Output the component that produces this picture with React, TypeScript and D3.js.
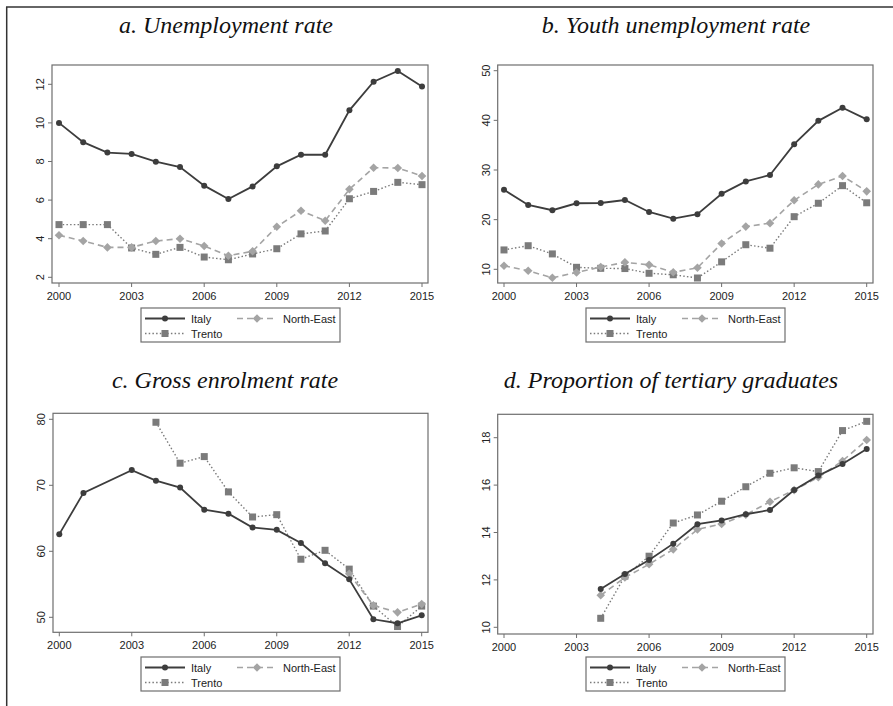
import React from 'react';
import * as d3 from 'd3';

// Years on the horizontal axis
const years = [2000, 2001, 2002, 2003, 2004, 2005, 2006, 2007, 2008, 2009, 2010, 2011, 2012, 2013, 2014, 2015];
const xTicks = [2000, 2003, 2006, 2009, 2012, 2015];

// a. Unemployment rate
const unempItaly = [10.0, 9.0, 8.46, 8.39, 7.99, 7.71, 6.75, 6.06, 6.71, 7.75, 8.35, 8.35, 10.65, 12.13, 12.69, 11.88];
const unempNorthEast = [4.18, 3.88, 3.55, 3.55, 3.88, 4.0, 3.62, 3.12, 3.35, 4.62, 5.45, 4.93, 6.56, 7.68, 7.66, 7.25];
const unempTrento = [4.73, 4.73, 4.73, 3.52, 3.19, 3.55, 3.05, 2.91, 3.21, 3.48, 4.25, 4.4, 6.07, 6.45, 6.92, 6.8];
const unempTicks = [2, 4, 6, 8, 10, 12];

// b. Youth unemployment rate
const youthItaly = [26.0, 22.95, 21.9, 23.3, 23.35, 23.95, 21.55, 20.2, 21.1, 25.2, 27.7, 29.0, 35.2, 39.9, 42.55, 40.2];
const youthNorthEast = [10.7, 9.7, 8.3, 9.35, 10.45, 11.4, 10.9, 9.4, 10.3, 15.2, 18.6, 19.3, 23.9, 27.1, 28.8, 25.7];
const youthTrento = [13.9, 14.75, 13.1, 10.4, 10.2, 10.15, 9.2, 8.9, 8.25, 11.5, 14.95, 14.25, 20.6, 23.3, 26.85, 23.4];
const youthTicks = [10, 20, 30, 40, 50];

// c. Gross enrolment rate
const enrolItaly = [62.6, 68.85, null, 72.3, 70.7, 69.65, 66.3, 65.7, 63.6, 63.25, 61.25, 58.2, 55.75, 49.7, 49.1, 50.3];
const enrolNorthEast = [null, null, null, null, null, null, null, null, null, null, null, null, 56.6, 51.8, 50.75, 52.0];
const enrolTrento = [null, null, null, null, 79.55, 73.35, 74.35, 69.0, 65.2, 65.55, 58.8, 60.15, 57.3, 51.7, 48.6, 51.7];
const enrolTicks = [50, 60, 70, 80];

// d. Proportion of tertiary graduates
const gradItaly = [null, null, null, null, 11.62, 12.25, 12.84, 13.53, 14.35, 14.51, 14.77, 14.95, 15.79, 16.4, 16.89, 17.52];
const gradNorthEast = [null, null, null, null, 11.35, 12.1, 12.66, 13.29, 14.13, 14.36, 14.75, 15.3, 15.79, 16.33, 17.02, 17.9];
const gradTrento = [null, null, null, null, 10.38, 12.16, 13.0, 14.4, 14.74, 15.32, 15.93, 16.5, 16.73, 16.57, 18.3, 18.69];
const gradTicks = [10, 12, 14, 16, 18];

const seriesNames = ['Italy', 'North-East', 'Trento'];

type Style = { color: string; marker: string; dash: string | null; width: number };
const styles: Record<string, Style> = {
  Italy: { color: '#3d3d3d', marker: 'circle', dash: null, width: 1.8 },
  'North-East': { color: '#a4a4a4', marker: 'diamond', dash: '6,4', width: 1.6 },
  Trento: { color: '#7b7b7b', marker: 'square', dash: '1.5,2.2', width: 1.4 },
};

type Panel = {
  title: string;
  values: (number | null)[][];
  ticks: number[];
  box: [number, number, number, number]; // left, top, right, bottom
  xr: [number, number];
  yr: [number, number];
  titleX: number;
  titleY: number;
  legend: [number, number];
};

const panels: Panel[] = [
  {
    title: 'a. Unemployment rate',
    values: [unempItaly, unempNorthEast, unempTrento],
    ticks: unempTicks,
    box: [52, 65, 428, 283],
    xr: [59, 422],
    yr: [277.3, 84.3],
    titleX: 226,
    titleY: 33,
    legend: [141, 308],
  },
  {
    title: 'b. Youth unemployment rate',
    values: [youthItaly, youthNorthEast, youthTrento],
    ticks: youthTicks,
    box: [497.7, 65, 873, 283],
    xr: [504, 866.7],
    yr: [269.3, 70.7],
    titleX: 676,
    titleY: 33,
    legend: [586, 308],
  },
  {
    title: 'c. Gross enrolment rate',
    values: [enrolItaly, enrolNorthEast, enrolTrento],
    ticks: enrolTicks,
    box: [53, 413.3, 428, 632.3],
    xr: [59.3, 421.7],
    yr: [617.3, 419.3],
    titleX: 225,
    titleY: 388,
    legend: [141, 657],
  },
  {
    title: 'd. Proportion of tertiary graduates',
    values: [gradItaly, gradNorthEast, gradTrento],
    ticks: gradTicks,
    box: [497.7, 414.3, 873, 634],
    xr: [504, 866.7],
    yr: [627.3, 437.7],
    titleX: 671,
    titleY: 388,
    legend: [586, 657],
  },
];

function Marker({ kind, x, y, color }: { kind: string; x: number; y: number; color: string }) {
  if (kind === 'circle') return <circle cx={x} cy={y} r={3} fill={color} />;
  if (kind === 'square') return <rect x={x - 3.5} y={y - 3.5} width={7} height={7} fill={color} />;
  const h = 4.3;
  return <path d={`M${x},${y - h}L${x + h},${y}L${x},${y + h}L${x - h},${y}Z`} fill={color} />;
}

function PanelView({ p }: { p: Panel }) {
  const [l, t, r, b] = p.box;
  const x = d3.scaleLinear().domain([years[0], years[years.length - 1]]).range(p.xr);
  const y = d3.scaleLinear().domain([p.ticks[0], p.ticks[p.ticks.length - 1]]).range(p.yr);
  const line = d3
    .line<{ yr: number; v: number }>()
    .x((d) => x(d.yr))
    .y((d) => y(d.v));

  // draw order: Trento and North-East beneath Italy
  const order = [2, 1, 0];
  const [lx, ly] = p.legend;
  const font = 'Liberation Sans, Arial, sans-serif';

  return (
    <g>
      <text
        x={p.titleX}
        y={p.titleY}
        textAnchor="middle"
        fontFamily="Liberation Serif, Times New Roman, serif"
        fontStyle="italic"
        fontSize={24}
        fill="#111"
      >
        {p.title}
      </text>
      <rect x={l} y={t} width={r - l} height={b - t} fill="#fff" stroke="#6e6e6e" strokeWidth={1.2} />
      {p.ticks.map((tk) => (
        <g key={'y' + tk}>
          <line x1={l - 4} x2={l} y1={y(tk)} y2={y(tk)} stroke="#6e6e6e" strokeWidth={1} />
          <text
            transform={`translate(${l - 8},${y(tk)}) rotate(-90)`}
            textAnchor="middle"
            fontFamily={font}
            fontSize={11}
            fill="#222"
          >
            {tk}
          </text>
        </g>
      ))}
      {xTicks.map((tk) => (
        <g key={'x' + tk}>
          <line x1={x(tk)} x2={x(tk)} y1={b} y2={b + 4} stroke="#6e6e6e" strokeWidth={1} />
          <text x={x(tk)} y={b + 17} textAnchor="middle" fontFamily={font} fontSize={11} fill="#222">
            {tk}
          </text>
        </g>
      ))}
      {order.map((si) => {
        const name = seriesNames[si];
        const st = styles[name];
        const pts = years
          .map((yr, i) => ({ yr, v: p.values[si][i] }))
          .filter((d) => d.v !== null) as { yr: number; v: number }[];
        return (
          <g key={name}>
            <path
              d={line(pts) ?? ''}
              fill="none"
              stroke={st.color}
              strokeWidth={st.width}
              strokeDasharray={st.dash ?? undefined}
            />
            {pts.map((d) => (
              <Marker key={d.yr} kind={st.marker} x={x(d.yr)} y={y(d.v)} color={st.color} />
            ))}
          </g>
        );
      })}
      <g>
        <rect x={lx} y={ly} width={199} height={34} fill="#fff" stroke="#6e6e6e" strokeWidth={1.2} />
        {seriesNames.map((name, i) => {
          const st = styles[name];
          const col = i === 1 ? 1 : 0;
          const row = i === 2 ? 1 : 0;
          const sx = lx + 4 + col * 92;
          const sy = ly + 10.5 + row * 15;
          return (
            <g key={name}>
              <line
                x1={sx}
                x2={sx + 40}
                y1={sy}
                y2={sy}
                stroke={st.color}
                strokeWidth={st.width}
                strokeDasharray={st.dash ?? undefined}
              />
              <Marker kind={st.marker} x={sx + 20} y={sy} color={st.color} />
              <text x={sx + 46} y={sy + 4} fontFamily={font} fontSize={11} fill="#222">
                {name}
              </text>
            </g>
          );
        })}
      </g>
    </g>
  );
}

export default function App() {
  return (
    <svg
      width={893}
      height={706}
      style={{ position: 'absolute', left: 0, top: 0, background: '#fff' }}
    >
      <rect x={0} y={0} width={893} height={706} fill="#fff" />
      <line x1={6} x2={893} y1={7} y2={7} stroke="#333" strokeWidth={1.5} />
      <line x1={6.7} x2={6.7} y1={7} y2={706} stroke="#333" strokeWidth={1.5} />
      {panels.map((p) => (
        <PanelView key={p.title} p={p} />
      ))}
    </svg>
  );
}
